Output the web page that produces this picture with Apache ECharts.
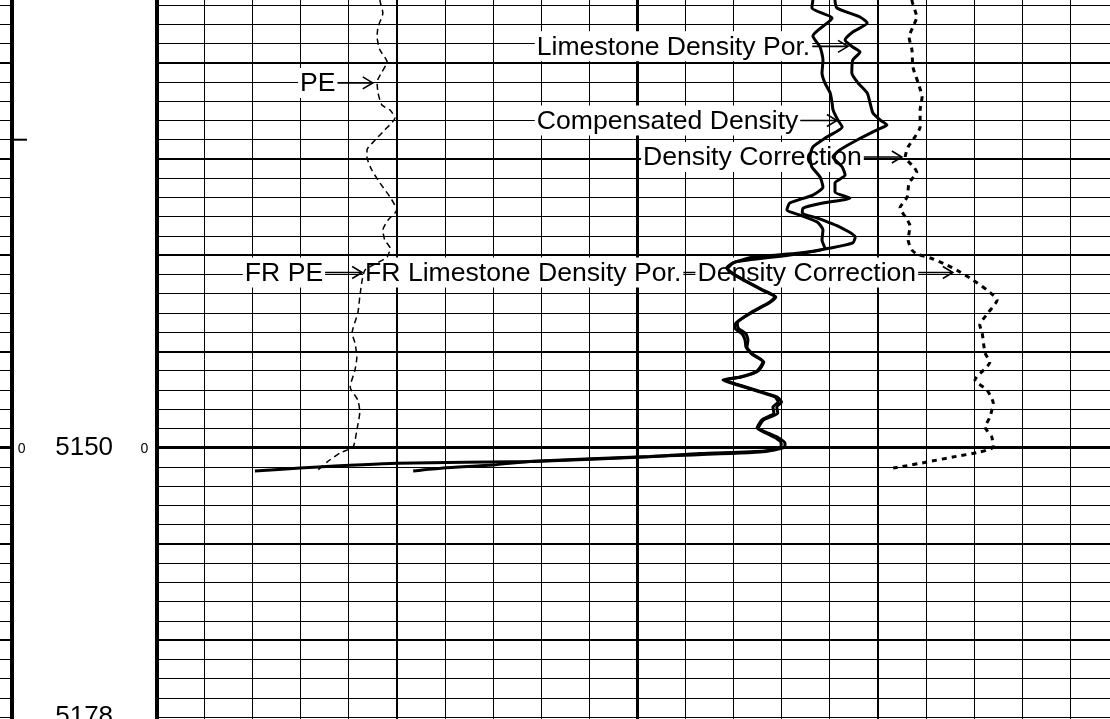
<!DOCTYPE html>
<html><head><meta charset="utf-8">
<script src="https://cdn.jsdelivr.net/npm/echarts@6/dist/echarts.min.js"></script>
<style>html,body{margin:0;padding:0;background:#fff}#c{width:1110px;height:719px}</style>
</head><body><div id="c"></div>
<script>
// ---- DATA: [depth (ft), track value (chart divisions 0-20)] ----
const pe = [[5102.45,4.65],[5103.49,4.65],[5104.84,4.71],[5106.29,4.61],[5107.33,4.59],[5108.68,4.65],[5109.93,4.80],[5110.97,4.69],[5112.01,4.59],[5113.15,4.61],[5114.40,4.69],[5114.92,4.86],[5115.75,4.96],[5116.99,4.75],[5118.03,4.55],[5119.07,4.38],[5119.80,4.38],[5121.15,4.48],[5122.50,4.65],[5123.96,4.86],[5125.31,5.00],[5126.34,4.82],[5127.39,4.71],[5128.43,4.75],[5129.26,4.86],[5130.19,4.80],[5130.81,4.59],[5131.54,4.34],[5132.58,4.28],[5134.34,4.23],[5136.01,4.19],[5138.09,4.07],[5139.12,4.13],[5140.58,4.17],[5141.93,4.13],[5143.70,4.03],[5145.05,4.19],[5146.30,4.23],[5148.16,4.17],[5149.93,4.09],[5150.55,3.82],[5151.49,3.55],[5152.32,3.36]];

const limestoneDensityPor = [[5102.45,13.67],[5103.49,13.65],[5104.32,13.63],[5105.36,14.05],[5107.23,13.65],[5108.37,13.80],[5109.72,13.86],[5111.07,13.84],[5112.11,13.90],[5113.15,14.01],[5114.19,14.05],[5114.92,14.07],[5115.96,14.17],[5116.68,14.26],[5117.72,13.94],[5118.76,13.65],[5119.80,13.59],[5120.84,13.63],[5121.88,13.80],[5122.92,13.86],[5123.75,13.65],[5124.58,13.17],[5125.31,13.11],[5125.83,13.38],[5126.55,13.74],[5127.39,13.86],[5128.43,13.84],[5129.26,13.90],[5129.98,13.17],[5130.71,12.03],[5131.33,11.86],[5131.96,11.99],[5132.68,12.24],[5133.62,12.59],[5134.35,12.86],[5134.97,12.72],[5135.91,12.38],[5137.05,12.05],[5137.57,12.03],[5138.19,12.18],[5138.81,12.24],[5139.54,12.26],[5140.27,12.38],[5141.10,12.61],[5142.03,12.49],[5142.66,12.14],[5142.97,11.78],[5143.49,12.09],[5144.11,12.49],[5144.73,12.86],[5145.25,12.93],[5145.77,12.82],[5146.40,12.84],[5147.12,12.59],[5147.96,12.49],[5148.48,12.68],[5148.99,12.88],[5149.51,12.99],[5149.93,12.99],[5150.34,12.65],[5150.60,11.30],[5150.94,10.26],[5151.43,7.83],[5151.62,5.00],[5152.11,2.99],[5152.42,2.05]];

const compensatedDensity = [[5102.45,14.11],[5103.49,14.11],[5104.32,14.15],[5105.25,14.63],[5105.88,14.78],[5106.81,14.48],[5107.64,14.32],[5108.37,14.48],[5108.89,14.63],[5109.72,14.48],[5111.07,14.46],[5112.11,14.59],[5113.15,14.78],[5114.19,14.84],[5115.23,14.90],[5115.96,15.05],[5116.48,15.19],[5116.99,14.98],[5118.03,14.57],[5119.07,14.21],[5119.80,14.07],[5120.84,14.26],[5121.67,14.32],[5122.50,14.11],[5123.44,14.11],[5124.06,14.42],[5124.58,13.86],[5125.10,13.45],[5125.62,13.43],[5126.14,13.74],[5127.07,14.21],[5128.11,14.53],[5128.73,14.48],[5129.26,14.01],[5129.78,13.38],[5130.20,12.40],[5130.80,12.00],[5131.40,11.88],[5132.00,12.02],[5132.68,12.26],[5133.62,12.61],[5134.35,12.88],[5134.97,12.74],[5135.91,12.40],[5137.05,12.08],[5137.57,12.10],[5138.19,12.26],[5138.81,12.30],[5139.54,12.28],[5140.27,12.40],[5141.10,12.63],[5142.03,12.51],[5142.66,12.16],[5142.97,11.82],[5143.49,12.12],[5144.11,12.52],[5144.73,12.90],[5145.25,13.00],[5145.77,12.90],[5146.40,12.92],[5147.12,12.62],[5147.96,12.52],[5148.48,12.72],[5148.99,12.94],[5149.51,13.07],[5149.93,13.07],[5150.45,12.55],[5150.91,10.26],[5151.40,7.83],[5151.80,7.00],[5152.11,5.96],[5152.42,5.34]];

const densityCorrection = [[5102.45,15.71],[5103.49,15.71],[5105.25,15.81],[5106.29,15.73],[5107.33,15.65],[5108.68,15.71],[5110.45,15.73],[5112.11,15.84],[5113.56,15.92],[5114.92,15.88],[5116.68,15.88],[5117.72,15.77],[5118.76,15.63],[5119.80,15.57],[5120.84,15.75],[5121.36,15.81],[5122.50,15.65],[5123.96,15.61],[5125.10,15.46],[5126.14,15.59],[5126.97,15.67],[5128.43,15.63],[5129.46,15.71],[5129.88,15.81],[5130.29,16.09],[5131.02,16.44],[5131.75,16.71],[5132.58,16.98],[5133.62,17.27],[5134.66,17.48],[5136.01,17.29],[5137.26,17.12],[5138.09,17.17],[5140.17,17.23],[5141.10,17.33],[5142.97,17.02],[5144.01,17.27],[5145.36,17.40],[5146.82,17.33],[5147.86,17.23],[5148.89,17.37],[5149.93,17.40],[5150.45,17.12],[5150.97,16.56],[5151.49,16.02],[5152.01,15.46],[5152.11,15.32]];

// curve labels: [text, text-left value, depth, arrow-tip value]
const curveLabels = [
  ['PE', 2.99, 5112.1, 4.50],
  ['Limestone Density Por.', 7.91, 5108.3, 14.38],
  ['Compensated Density', 7.91, 5116.0, 14.15],
  ['Density Correction', 10.12, 5119.8, 15.50],
  ['FR PE', 1.84, 5131.8, 4.28],
  ['FR Limestone Density Por.', 4.34, 5131.8, 11.88],
  ['Density Correction', 11.25, 5131.8, 16.56]
];

const depthLabels = [5150, 5178];
const depthTicks = [5118];
const scaleZeroDepth = 5150;

const DEPTH_MIN = 5100, DEPTH_MAX = 5180;
const TRACK_MIN = 0, TRACK_MAX = 20;

// ---- layout ----
const TOP = -33.55, BOTTOM = -17.45;
const FONT_FAMILY = '"Liberation Sans", Arial, Helvetica, sans-serif';
const FONT = '26.6px ' + FONT_FAMILY;

const measureCtx = document.createElement('canvas').getContext('2d');
function textWidth(t){ measureCtx.font = FONT; return measureCtx.measureText(t).width; }

function grid(left, width){
  return {left: left, width: width, top: TOP, bottom: BOTTOM, show: false, containLabel: false, outerBoundsMode: 'none'};
}
function xAx(gi, min, max, interval, w){
  return {gridIndex: gi, type: 'value', min: min, max: max, interval: interval,
    axisLine: {show: false}, axisTick: {show: false}, axisLabel: {show: false},
    splitLine: {show: w > 0, lineStyle: {color: '#000', width: w || 1}}};
}
function yAx(gi, interval, w, extra){
  return Object.assign({gridIndex: gi, type: 'value', inverse: true, min: DEPTH_MIN, max: DEPTH_MAX, interval: interval,
    axisLine: {show: false}, axisTick: {show: false}, axisLabel: {show: false},
    splitLine: {show: w > 0, lineStyle: {color: '#000', width: w || 1}}}, extra || {});
}

const TRACK_LEFT = 156.3, TRACK_W = 962;
const DEPTH_LEFT = 12, DEPTH_W = 144.3;
const STRIP_LEFT = -50, STRIP_W = 61;

const grids = [
  grid(TRACK_LEFT, TRACK_W), grid(TRACK_LEFT, TRACK_W), grid(TRACK_LEFT, TRACK_W),
  grid(DEPTH_LEFT, DEPTH_W),
  grid(STRIP_LEFT, STRIP_W), grid(STRIP_LEFT, STRIP_W), grid(STRIP_LEFT, STRIP_W)
];
const xAxes = [
  xAx(0, TRACK_MIN, TRACK_MAX, 1, 1), xAx(1, TRACK_MIN, TRACK_MAX, 5, 2), xAx(2, TRACK_MIN, TRACK_MAX, 10, 3),
  xAx(3, 0, 1, 1, 0),
  xAx(4, 0, 1, 1, 0), xAx(5, 0, 1, 1, 0), xAx(6, 0, 1, 1, 0)
];
const yAxes = [
  yAx(0, 2, 1), yAx(1, 10, 2), yAx(2, 50, 3),
  yAx(3, 2, 0, {position: 'left', axisLine: {show: true, onZero: false, lineStyle: {color: '#000', width: 4}}}),
  yAx(3, 2, 0, {position: 'right', axisLine: {show: true, onZero: false, lineStyle: {color: '#000', width: 4}}}),
  yAx(4, 2, 1), yAx(5, 10, 2), yAx(6, 50, 3)
];

function curve(name, data, width, type){
  return {name: name, type: 'line', xAxisIndex: 0, yAxisIndex: 0, z: 5,
    data: data.map(p => [p[1], p[0]]), showSymbol: false, symbol: 'none', smooth: 0.2,
    lineStyle: {color: '#000', width: width, type: type}, silent: true, animation: false};
}

const series = [
  {type: 'custom', name: 'labels', xAxisIndex: 0, yAxisIndex: 0, z: 3, silent: true,
    data: curveLabels.map((l, i) => [l[1], l[2], l[3], i]),
    renderItem: function(params, api){
      const l = curveLabels[params.dataIndex];
      const p = api.coord([l[1], l[2]]);
      const tip = api.coord([l[3], l[2]]);
      const w = textWidth(l[0]);
      const y = p[1], x0 = p[0], x1 = x0 + w + 2;
      const z = params.dataIndex * 10;
      return {type: 'group', children: [
        {type: 'rect', z2: z, shape: {x: x0 - 2, y: y - 15, width: w + 4, height: 30}, style: {fill: '#fff'}},
        {type: 'text', z2: z + 1, x: x0, y: y + 1, style: {text: l[0], font: FONT, fill: '#000', align: 'left', verticalAlign: 'middle'}},
        {type: 'line', z2: z + 2, shape: {x1: x1, y1: y, x2: tip[0], y2: y}, style: {stroke: '#000', lineWidth: 1.6}},
        {type: 'polyline', z2: z + 3, shape: {points: [[tip[0] - 10, y - 6], [tip[0], y], [tip[0] - 10, y + 6]]}, style: {stroke: '#000', fill: null, lineWidth: 1.6}}
      ]};
    }},
  {type: 'custom', name: 'depth', xAxisIndex: 3, yAxisIndex: 3, z: 3, silent: true,
    data: depthLabels.map(d => [0.5, d]),
    renderItem: function(params, api){
      const d = depthLabels[params.dataIndex];
      const p = api.coord([0.5, d]);
      return {type: 'text', x: p[0], y: p[1], style: {text: String(d), font: '26px ' + FONT_FAMILY, fill: '#000', align: 'center', verticalAlign: 'middle'}};
    }},
  {type: 'custom', name: 'scaleZero', xAxisIndex: 3, yAxisIndex: 3, z: 3, silent: true,
    data: [[0.067, scaleZeroDepth], [0.917, scaleZeroDepth]],
    renderItem: function(params, api){
      const p = api.coord([api.value(0), api.value(1)]);
      return {type: 'text', x: p[0], y: p[1] + 1, style: {text: '0', font: '14px ' + FONT_FAMILY, fill: '#000', align: 'center', verticalAlign: 'middle'}};
    }},
  {type: 'custom', name: 'ticks', xAxisIndex: 3, yAxisIndex: 3, z: 3, silent: true,
    data: depthTicks.map(d => [0, d]),
    renderItem: function(params, api){
      const p = api.coord([0, depthTicks[params.dataIndex]]);
      return {type: 'line', shape: {x1: p[0], y1: p[1], x2: p[0] + 15, y2: p[1]}, style: {stroke: '#000', lineWidth: 2}};
    }},
  curve('PE', pe, 1.5, [6, 4]),
  curve('Limestone Density Por.', limestoneDensityPor, 3, 'solid'),
  curve('Compensated Density', compensatedDensity, 3, 'solid'),
  curve('Density Correction', densityCorrection, 3, [5, 5])
];

const chart = echarts.init(document.getElementById('c'), null, {renderer: 'canvas'});
chart.setOption({
  animation: false,
  backgroundColor: '#fff',
  grid: grids, xAxis: xAxes, yAxis: yAxes, series: series
});
</script>
</body></html>
